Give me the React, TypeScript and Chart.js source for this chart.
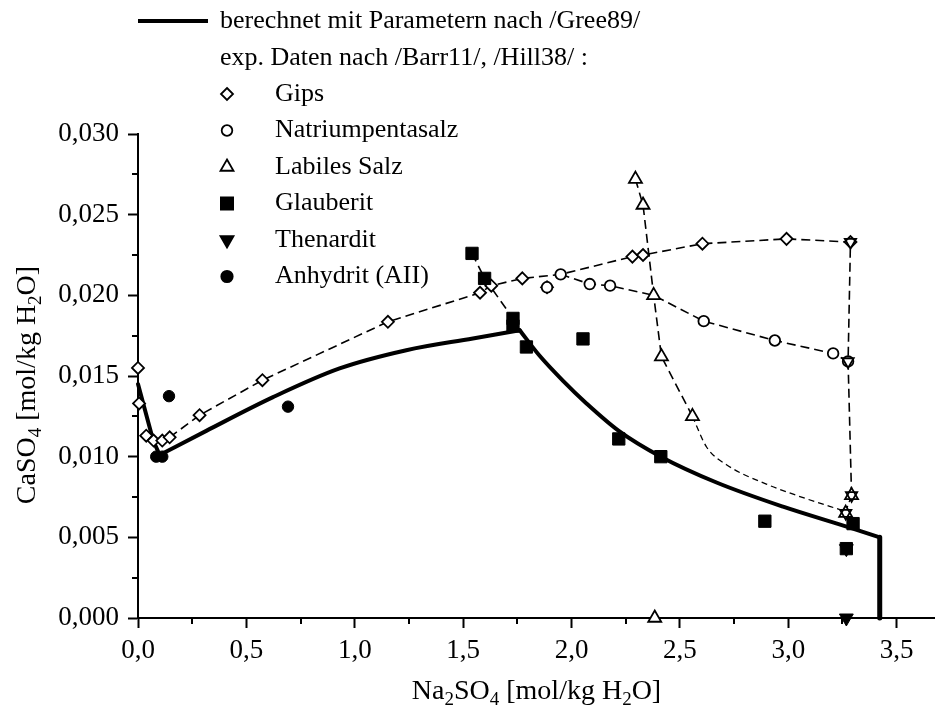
import React, { useEffect, useRef } from 'react';
import { Chart, registerables } from 'chart.js';

Chart.register(...registerables);

// ---------- data ----------
// calculated curve (berechnet mit Parametern nach /Gree89/), in pieces
const calcDropX = [0.0, 0.07, 0.10];
const calcDropY = [0.0145, 0.0110, 0.0101];
const calcRiseX = [0.10, 0.315, 0.623, 0.93, 1.238, 1.545, 1.761];
const calcRiseY = [0.0101, 0.0116, 0.01369, 0.01547, 0.0166, 0.01733, 0.01784];
const calcFallX = [1.761, 1.85, 1.961, 2.069, 2.218, 2.412, 2.669, 2.976, 3.284, 3.422];
const calcFallY = [0.01784, 0.0163, 0.0147, 0.0133, 0.0116, 0.0100, 0.0084, 0.0069, 0.0056, 0.0050];
const calcVertX = [3.422, 3.422];
const calcVertY = [0.0050, 0.0];

const gipsX = [0.0, 0.005, 0.038, 0.072, 0.112, 0.146, 0.284, 0.574, 1.153, 1.578, 1.630, 1.773, 1.887, 2.281, 2.330, 2.604, 2.992, 3.287];
const gipsY = [0.0155, 0.0133, 0.0113, 0.0110, 0.0110, 0.0112, 0.01257, 0.01474, 0.01836, 0.02016, 0.0206, 0.02105, 0.0205, 0.0224, 0.0225, 0.0232, 0.0235, 0.0233];

const natX = [1.887, 1.950, 2.084, 2.178, 2.610, 2.938, 3.207, 3.276];
const natY = [0.0205, 0.0213, 0.0207, 0.0206, 0.0184, 0.0172, 0.0164, 0.0159];

const labX = [2.295, 2.330, 2.379, 2.415, 2.558, 3.265, 3.292, 2.384];
const labY = [0.0272, 0.0256, 0.0200, 0.0162, 0.0125, 0.0065, 0.0076, 0.0];

const glauX = [1.541, 1.599, 1.730, 1.730, 1.792, 2.053, 2.218, 2.412, 2.892, 3.299, 3.268];
const glauY = [0.0226, 0.02105, 0.01857, 0.0181, 0.0168, 0.0173, 0.0111, 0.0100, 0.0060, 0.00585, 0.0043];

const thenX = [3.268, 3.268];
const thenY = [0.0043, 0.0];

const anhX = [0.084, 0.112, 0.143, 0.692];
const anhY = [0.0100, 0.0100, 0.01375, 0.0131];

// unlabeled open down-triangles at the invariant points
const invX = [3.287, 3.276, 3.292, 3.265];
const invY = [0.0233, 0.0159, 0.0076, 0.0065];

// dashed connection lines
const gipsLineX = [0.146, 0.284, 0.574, 1.153, 1.578, 1.630, 1.773, 1.950, 2.281, 2.330, 2.604, 2.992, 3.287, 3.276, 3.292];
const gipsLineY = [0.0112, 0.01257, 0.01474, 0.01836, 0.02016, 0.0206, 0.02105, 0.0213, 0.0224, 0.0225, 0.0232, 0.0235, 0.0233, 0.0159, 0.0076];
const natLineX = [1.950, 2.084, 2.178, 2.379, 2.610, 2.938, 3.207, 3.276];
const natLineY = [0.0213, 0.0207, 0.0206, 0.0200, 0.0184, 0.0172, 0.0164, 0.0159];
const labLineX = [2.295, 2.330, 2.379, 2.415, 2.558];
const labLineY = [0.0272, 0.0256, 0.0200, 0.0162, 0.0125];
const labCurveX = [2.558, 2.623, 2.715, 2.899, 3.038, 3.265];
const labCurveY = [0.0125, 0.0106, 0.0095, 0.0083, 0.0076, 0.0066];
const labEndX = [3.265, 3.292];
const labEndY = [0.0066, 0.0076];
const glauLineX = [1.541, 1.599, 1.730];
const glauLineY = [0.0226, 0.02105, 0.01857];

const xTicks = [0, 0.5, 1.0, 1.5, 2.0, 2.5, 3.0, 3.5];
const yTicks = [0, 0.005, 0.010, 0.015, 0.020, 0.025, 0.030];

const legendCalc = 'berechnet mit Parametern nach /Gree89/';
const legendExp = 'exp. Daten nach /Barr11/, /Hill38/ :';
const legendNames = ['Gips', 'Natriumpentasalz', 'Labiles Salz', 'Glauberit', 'Thenardit', 'Anhydrit (AII)'];

// ---------- helpers ----------
const FONT = '"Liberation Serif", "Times New Roman", serif';
const pts = (xs: number[], ys: number[]) => xs.map((x, i) => ({ x, y: ys[i] }));

function marker(ctx: CanvasRenderingContext2D, kind: string, x: number, y: number) {
  ctx.save();
  ctx.lineWidth = 1.8;
  ctx.strokeStyle = '#000';
  ctx.beginPath();
  let fill = '#fff';
  if (kind === 'diamond') {
    const r = 6;
    ctx.moveTo(x, y - r); ctx.lineTo(x + r, y); ctx.lineTo(x, y + r); ctx.lineTo(x - r, y); ctx.closePath();
  } else if (kind === 'circle' || kind === 'fcircle') {
    ctx.arc(x, y, kind === 'circle' ? 5.3 : 5.7, 0, Math.PI * 2);
    if (kind === 'fcircle') fill = '#000';
  } else if (kind === 'triangle' || kind === 'dtriangle') {
    const r = 7.5;
    const s = kind === 'triangle' ? 1 : -1;
    ctx.moveTo(x, y - s * r);
    ctx.lineTo(x + r * 0.866, y + s * r * 0.5);
    ctx.lineTo(x - r * 0.866, y + s * r * 0.5);
    ctx.closePath();
    if (kind === 'dtriangle') fill = '#000';
  } else if (kind === 'square') {
    const h = 6.1;
    ctx.rect(x - h, y - h, 2 * h, 2 * h);
    fill = '#000';
  }
  ctx.fillStyle = fill;
  ctx.fill();
  ctx.stroke();
  ctx.restore();
}

function drawRich(ctx: CanvasRenderingContext2D, parts: [string, boolean][], cx: number, cy: number, rotate: boolean) {
  const main = `28px ${FONT}`;
  const sub = `19px ${FONT}`;
  ctx.save();
  ctx.translate(cx, cy);
  if (rotate) ctx.rotate(-Math.PI / 2);
  let total = 0;
  for (const [t, s] of parts) { ctx.font = s ? sub : main; total += ctx.measureText(t).width; }
  let x = -total / 2;
  ctx.textBaseline = 'alphabetic';
  ctx.textAlign = 'left';
  ctx.fillStyle = '#000';
  for (const [t, s] of parts) {
    ctx.font = s ? sub : main;
    ctx.fillText(t, x, s ? 6 : 0);
    x += ctx.measureText(t).width;
  }
  ctx.restore();
}

const decorPlugin = {
  id: 'decor',
  afterLayout(chart: any) {
    const xs = chart.scales.x;
    const a = chart.chartArea;
    a.right = 935;
    a.width = a.right - a.left;
    xs.right = 935;
    xs.width = xs.right - xs.left;
    xs.configure();
  },
  afterDraw(chart: any) {
    const ctx: CanvasRenderingContext2D = chart.ctx;
    const xs = chart.scales.x;
    const ys = chart.scales.y;
    const area = chart.chartArea;
    ctx.save();
    // minor ticks
    ctx.strokeStyle = '#000';
    ctx.lineWidth = 2;
    ctx.beginPath();
    for (let i = 0; i < xTicks.length; i++) {
      const v = xTicks[i] + 0.25;
      if (v >= xs.max) continue;
      const px = Math.round(xs.getPixelForValue(v));
      ctx.moveTo(px, area.bottom);
      ctx.lineTo(px, area.bottom + 6);
    }
    for (let i = 0; i < yTicks.length - 1; i++) {
      const v = yTicks[i] + 0.0025;
      const py = Math.round(ys.getPixelForValue(v));
      ctx.moveTo(area.left, py);
      ctx.lineTo(area.left - 6, py);
    }
    ctx.stroke();

    // axis titles
    drawRich(ctx, [['Na', false], ['2', true], ['SO', false], ['4', true], [' [mol/kg H', false], ['2', true], ['O]', false]], (area.left + area.right) / 2, 699, false);
    drawRich(ctx, [['CaSO', false], ['4', true], [' [mol/kg H', false], ['2', true], ['O]', false]], 35, 385, true);

    // legend
    ctx.strokeStyle = '#000';
    ctx.lineWidth = 4;
    ctx.beginPath();
    ctx.moveTo(138, 21);
    ctx.lineTo(208, 21);
    ctx.stroke();
    ctx.fillStyle = '#000';
    ctx.font = `26px ${FONT}`;
    ctx.textBaseline = 'middle';
    ctx.textAlign = 'left';
    ctx.fillText(legendCalc, 220, 21);
    ctx.fillText(legendExp, 220, 58);
    const kinds = ['diamond', 'circle', 'triangle', 'square', 'dtriangle', 'fcircle'];
    for (let i = 0; i < legendNames.length; i++) {
      const y = 94 + i * 36.5;
      marker(ctx, kinds[i], 227, y);
      ctx.fillStyle = '#000';
      ctx.font = `26px ${FONT}`;
      ctx.textBaseline = 'middle';
      ctx.fillText(legendNames[i], 275, y);
    }
    ctx.restore();
  },
};

export default function App() {
  const ref = useRef<HTMLCanvasElement>(null);
  useEffect(() => {
    if (!ref.current) return;
    const dash = { showLine: true, pointRadius: 0, borderColor: '#000', borderWidth: 1.6, borderDash: [9, 5], fill: false, order: 5 };
    const solid = { showLine: true, pointRadius: 0, borderColor: '#000', borderWidth: 4, borderJoinStyle: 'round', borderCapStyle: 'round', order: 3, clip: false };
    const mk = (data: any, style: string, radius: number, filled: boolean, rotation = 0) => ({
      data, showLine: false, pointStyle: style, pointRadius: radius, pointRotation: rotation,
      pointBackgroundColor: filled ? '#000' : '#fff', pointBorderColor: '#000', pointBorderWidth: filled ? 1 : 1.8,
      pointHoverRadius: radius, order: 1, clip: false,
    });
    const chart = new Chart(ref.current, {
      type: 'scatter',
      data: {
        datasets: [
          { ...mk(pts(invX, invY), 'triangle', 6.5, false, 180), pointBackgroundColor: 'rgba(0,0,0,0)', order: 0 },
          mk(pts(thenX, thenY), 'triangle', 8, true, 180),
          mk(pts(glauX, glauY), 'rect', 8.7, true),
          mk(pts(anhX, anhY), 'circle', 5.7, true),
          mk(pts(labX, labY), 'triangle', 7.5, false),
          mk(pts(natX, natY), 'circle', 5.3, false),
          mk(pts(gipsX, gipsY), 'rectRot', 6, false),
          { ...solid, data: pts(calcDropX, calcDropY) },
          { ...solid, data: pts(calcRiseX, calcRiseY), cubicInterpolationMode: 'monotone' },
          { ...solid, data: pts(calcFallX, calcFallY), cubicInterpolationMode: 'monotone' },
          { ...solid, data: pts(calcVertX, calcVertY), borderWidth: 5, borderCapStyle: 'butt' },
          { ...dash, data: pts(gipsLineX, gipsLineY) },
          { ...dash, data: pts(natLineX, natLineY) },
          { ...dash, data: pts(labLineX, labLineY) },
          { ...dash, data: pts(labCurveX, labCurveY), borderWidth: 1.3, borderDash: [6, 4], cubicInterpolationMode: 'monotone' },
          { ...dash, data: pts(labEndX, labEndY), borderWidth: 1.3, borderDash: [6, 4] },
          { ...dash, data: pts(glauLineX, glauLineY) },
        ] as any,
      },
      options: {
        animation: false,
        responsive: false,
        events: [],
        layout: { padding: { top: 134, right: 0, left: 0, bottom: 0 } },
        plugins: { legend: { display: false }, tooltip: { enabled: false }, title: { display: false } },
        scales: {
          x: {
            type: 'linear', min: 0, max: 3.677,
            afterFit: (s: any) => { s.height = 97; s.paddingLeft = 0; s.paddingRight = 0; },
            afterBuildTicks: (s: any) => { s.ticks = xTicks.map((v) => ({ value: v })); },
            ticks: { color: '#000', font: { family: FONT, size: 27 }, padding: 7, includeBounds: false,
              callback: (v: any) => Number(v).toFixed(1).replace('.', ',') },
            grid: { display: true, drawOnChartArea: false, drawTicks: true, tickLength: 10, tickWidth: 2, tickColor: '#000' },
            border: { display: true, color: '#000', width: 2 },
          },
          y: {
            type: 'linear', min: 0, max: 0.03,
            afterFit: (s: any) => { s.width = 138; s.paddingTop = 0; s.paddingBottom = 0; },
            afterBuildTicks: (s: any) => { s.ticks = yTicks.map((v) => ({ value: v })); },
            ticks: { color: '#000', font: { family: FONT, size: 27 }, padding: 9,
              callback: (v: any) => Number(v).toFixed(3).replace('.', ',') },
            grid: { display: true, drawOnChartArea: false, drawTicks: true, tickLength: 10, tickWidth: 2, tickColor: '#000' },
            border: { display: true, color: '#000', width: 2 },
          },
        },
      } as any,
      plugins: [decorPlugin],
    });
    return () => chart.destroy();
  }, []);
  return (
    <div style={{ position: 'fixed', left: 0, top: 0, width: 935, height: 715, background: '#fff' }}>
      <canvas ref={ref} width={935} height={715} style={{ display: 'block' }} />
    </div>
  );
}
